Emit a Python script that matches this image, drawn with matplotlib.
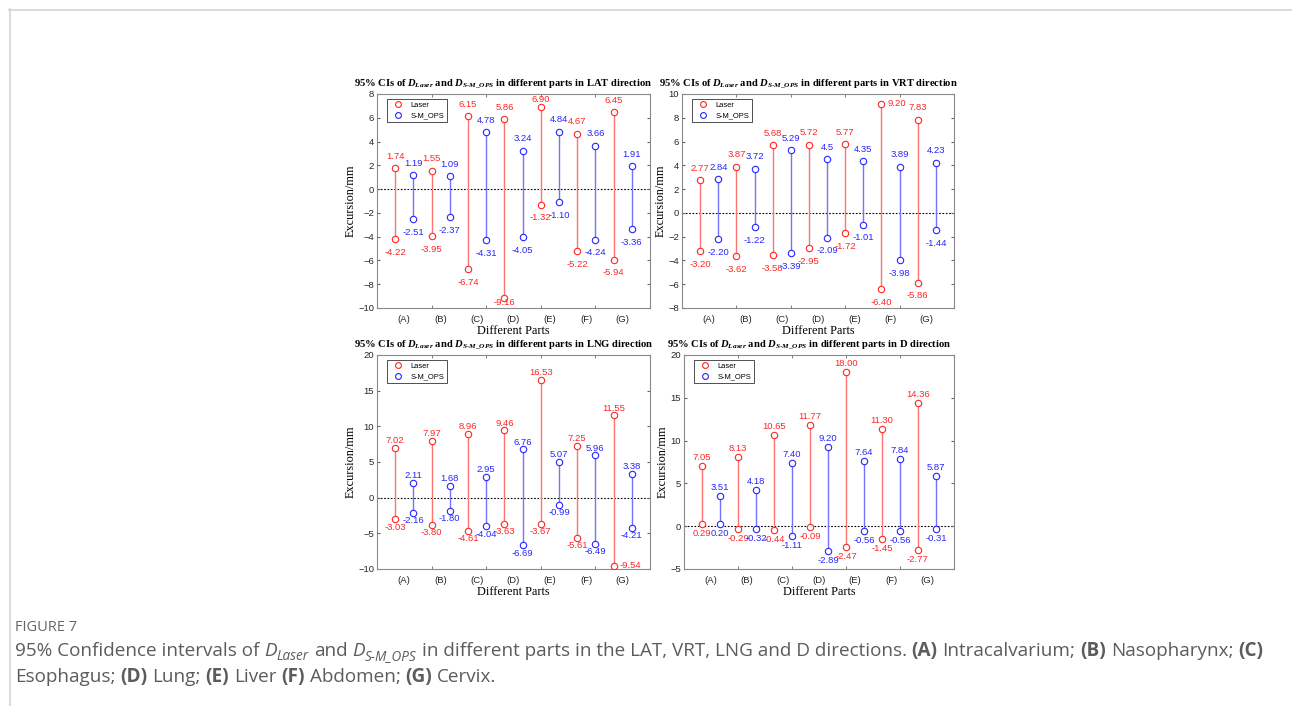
import matplotlib
matplotlib.use("Agg")
import matplotlib.pyplot as plt
from matplotlib.lines import Line2D
import numpy as np

W, H = 1292, 706

parts = ["(A)", "(B)", "(C)", "(D)", "(E)", "(F)", "(G)"]

# values kept as printed in the figure
lat_laser_hi = ["1.74", "1.55", "6.15", "5.86", "6.90", "4.67", "6.45"]
lat_laser_lo = ["-4.22", "-3.95", "-6.74", "-9.16", "-1.32", "-5.22", "-5.94"]
lat_ops_hi = ["1.19", "1.09", "4.78", "3.24", "4.84", "3.66", "1.91"]
lat_ops_lo = ["-2.51", "-2.37", "-4.31", "-4.05", "-1.10", "-4.24", "-3.36"]

vrt_laser_hi = ["2.77", "3.87", "5.68", "5.72", "5.77", "9.20", "7.83"]
vrt_laser_lo = ["-3.20", "-3.62", "-3.58", "-2.95", "-1.72", "-6.40", "-5.86"]
vrt_ops_hi = ["2.84", "3.72", "5.29", "4.5", "4.35", "3.89", "4.23"]
vrt_ops_lo = ["-2.20", "-1.22", "-3.39", "-2.09", "-1.01", "-3.98", "-1.44"]

lng_laser_hi = ["7.02", "7.97", "8.96", "9.46", "16.53", "7.25", "11.55"]
lng_laser_lo = ["-3.03", "-3.80", "-4.61", "-3.63", "-3.67", "-5.61", "-9.54"]
lng_ops_hi = ["2.11", "1.68", "2.95", "6.76", "5.07", "5.96", "3.38"]
lng_ops_lo = ["-2.16", "-1.80", "-4.04", "-6.69", "-0.99", "-6.49", "-4.21"]

d_laser_hi = ["7.05", "8.13", "10.65", "11.77", "18.00", "11.30", "14.36"]
d_laser_lo = ["0.29", "-0.29", "-0.44", "-0.09", "-2.47", "-1.45", "-2.77"]
d_ops_hi = ["3.51", "4.18", "7.40", "9.20", "7.64", "7.84", "5.87"]
d_ops_lo = ["0.20", "-0.32", "-1.11", "-2.89", "-0.56", "-0.56", "-0.31"]

plt.rcParams["mathtext.fontset"] = "custom"
plt.rcParams["mathtext.rm"] = "Liberation Serif:bold"
plt.rcParams["mathtext.it"] = "Liberation Serif:italic:bold"
plt.rcParams["mathtext.bf"] = "Liberation Serif:bold"

RED_LINE = (1.0, 0.45, 0.45)
RED = (1.0, 0.15, 0.15)
BLUE_LINE = (0.45, 0.45, 1.0)
BLUE = (0.15, 0.15, 1.0)


def px_rect(left, top, right, bottom):
    return [left / W, 1 - bottom / H, (right - left) / W, (bottom - top) / H]


def draw_panel(ax, laser_hi, laser_lo, ops_hi, ops_lo, ylim, step, direction):
    n = len(parts)
    x_laser = np.arange(n) * 2 + 1
    x_ops = x_laser + 1
    ax.set_xlim(0, 2 * n + 1)
    ax.set_ylim(*ylim)
    ax.axhline(0, color="black", ls=(0, (1.5, 1.5)), lw=0.8, zorder=1)
    span = ylim[1] - ylim[0]
    # keep labels ~5 px inside the box
    margin = 5.5 * span / (ax.get_position().height * H)
    for xs, hi, lo, lc, tc in [(x_laser, laser_hi, laser_lo, RED_LINE, RED),
                               (x_ops, ops_hi, ops_lo, BLUE_LINE, BLUE)]:
        hv = np.array(hi, dtype=float)
        lv = np.array(lo, dtype=float)
        ax.vlines(xs, lv, hv, color=lc, lw=1.0, zorder=2)
        for vals in (hv, lv):
            ax.plot(xs, vals, "o", mfc="white", mec=tc, ms=4.6, mew=0.8, zorder=3)
        for x, v, s in zip(xs, hv, hi):
            frac = (v - ylim[0]) / span
            if frac > 0.95:
                ax.annotate(s, (x, v), xytext=(11, 0), textcoords="offset points",
                            ha="center", va="center", color=tc, fontsize=6.8,
                            family="Liberation Sans")
            else:
                ax.text(x, min(v + 1.0, ylim[1] - margin), s, ha="center", va="center",
                        color=tc, fontsize=6.8, family="Liberation Sans")
        for x, v, s in zip(xs, lv, lo):
            frac = (v - ylim[0]) / span
            if frac < 0.03:
                ax.annotate(s, (x, v), xytext=(12, 0), textcoords="offset points",
                            ha="center", va="center", color=tc, fontsize=6.8,
                            family="Liberation Sans")
            else:
                ax.text(x, max(v - 1.1, ylim[0] + margin), s, ha="center", va="center",
                        color=tc, fontsize=6.8, family="Liberation Sans")
    ax.set_xticks(x_laser + 0.5)
    ax.set_xticklabels(parts)
    ax.set_xticks([3, 6, 9, 12], minor=True)
    ax.set_yticks(np.arange(ylim[0], ylim[1] + 0.01, step))
    ax.tick_params(axis="x", which="major", length=0, pad=5)
    ax.tick_params(axis="x", which="minor", direction="in", length=2.5,
                   top=True, bottom=True, color="#666666")
    ax.tick_params(axis="y", direction="in", length=2.5, left=True, right=True,
                   color="#666666", pad=2)
    ax.tick_params(labelsize=6.8, labelcolor="#262626")
    for lab in ax.get_xticklabels() + ax.get_yticklabels():
        lab.set_family("Liberation Sans")
    for sp in ax.spines.values():
        sp.set_color("#8a8a8a")
        sp.set_linewidth(0.8)
    ax.set_ylabel("Excursion/mm", family="Liberation Serif", fontsize=8.8, labelpad=1)
    ax.set_xlabel("Different Parts", family="Liberation Serif", fontsize=8.8, labelpad=1)
    bw = ax.get_position().width * W
    bh = ax.get_position().height * H
    ax.set_title(r"95% CIs of $D_{Laser}$ and $D_{S\text{-}M\_OPS}$ in different parts in "
                 + direction + " direction", x=0.5 - 10 / bw,
                 family="Liberation Serif", fontweight="bold", fontsize=7.6, pad=6)
    handles = [Line2D([], [], ls="none", marker="o", mfc="white", mec=RED, ms=4.2, mew=0.8),
               Line2D([], [], ls="none", marker="o", mfc="white", mec=BLUE, ms=4.2, mew=0.8)]
    leg = ax.legend(handles, ["Laser", "S-M_OPS"], loc="upper left",
                    bbox_to_anchor=(10 / bw, 1 - 5 / bh), borderaxespad=0,
                    fancybox=False, framealpha=1, edgecolor="#333333",
                    handlelength=2.2, handletextpad=0.6, borderpad=0.35,
                    labelspacing=0.45, prop={"family": "Liberation Sans", "size": 5.4})
    leg.get_frame().set_linewidth(0.6)


fig = plt.figure(figsize=(W / 100, H / 100), dpi=100)

ax1 = fig.add_axes(px_rect(377, 94, 650, 308))
ax2 = fig.add_axes(px_rect(682, 94, 954, 308))
ax3 = fig.add_axes(px_rect(377, 355, 650, 569))
ax4 = fig.add_axes(px_rect(684, 355, 954, 569))

draw_panel(ax1, lat_laser_hi, lat_laser_lo, lat_ops_hi, lat_ops_lo, (-10, 8), 2, "LAT")
draw_panel(ax2, vrt_laser_hi, vrt_laser_lo, vrt_ops_hi, vrt_ops_lo, (-8, 10), 2, "VRT")
draw_panel(ax3, lng_laser_hi, lng_laser_lo, lng_ops_hi, lng_ops_lo, (-10, 20), 5, "LNG")
draw_panel(ax4, d_laser_hi, d_laser_lo, d_ops_hi, d_ops_lo, (-5, 20), 5, "D")

# card border
fig.add_artist(Line2D([9 / W, 1], [1 - 9.5 / H, 1 - 9.5 / H], color="#d4d4d4", lw=1.2))
fig.add_artist(Line2D([9.5 / W, 9.5 / W], [0, 1 - 9 / H], color="#d4d4d4", lw=1.2))

# caption
renderer = fig.canvas.get_renderer()
CAP = "#5c5c5c"
CAP_FONT = "Open Sans"


def text_width(s, size, weight="normal", style="normal"):
    t = fig.text(0, 0, s, fontsize=size, fontweight=weight, fontstyle=style, family=CAP_FONT)
    w = t.get_window_extent(renderer).width
    t.remove()
    return w


def rich_line(x, y, pieces, size):
    space = text_width("x x", size) - text_width("xx", size)
    for txt, weight, style, sub in pieces:
        fs = size * 0.72 if sub else size
        yy = y + (4 if sub else 0)
        if txt.startswith(" "):
            x += space
            txt = txt[1:]
        t = fig.text(x / W, 1 - yy / H, txt, fontsize=fs, fontweight=weight,
                     fontstyle=style, family=CAP_FONT, color=CAP, va="baseline", ha="left")
        x += t.get_window_extent(renderer).width


fig.text(15 / W, 1 - 631 / H, "FIGURE 7", fontsize=10.5, family=CAP_FONT, color="#666666",
         va="baseline", ha="left")
cap_size = 13.55
line1 = [("95% Confidence intervals of", "normal", "normal", False),
         (" D", "normal", "italic", False), ("Laser", "normal", "italic", True),
         (" and", "normal", "normal", False),
         (" D", "normal", "italic", False), ("S-M_OPS", "normal", "italic", True),
         (" in different parts in the LAT, VRT, LNG and D directions.", "normal", "normal", False),
         (" (A)", "bold", "normal", False), (" Intracalvarium;", "normal", "normal", False),
         (" (B)", "bold", "normal", False), (" Nasopharynx;", "normal", "normal", False),
         (" (C)", "bold", "normal", False)]
line2 = [("Esophagus;", "normal", "normal", False),
         (" (D)", "bold", "normal", False), (" Lung;", "normal", "normal", False),
         (" (E)", "bold", "normal", False), (" Liver", "normal", "normal", False),
         (" (F)", "bold", "normal", False), (" Abdomen;", "normal", "normal", False),
         (" (G)", "bold", "normal", False), (" Cervix.", "normal", "normal", False)]
rich_line(15, 656, line1, cap_size)
rich_line(15, 682, line2, cap_size)

fig.savefig("out.png", dpi=100)
